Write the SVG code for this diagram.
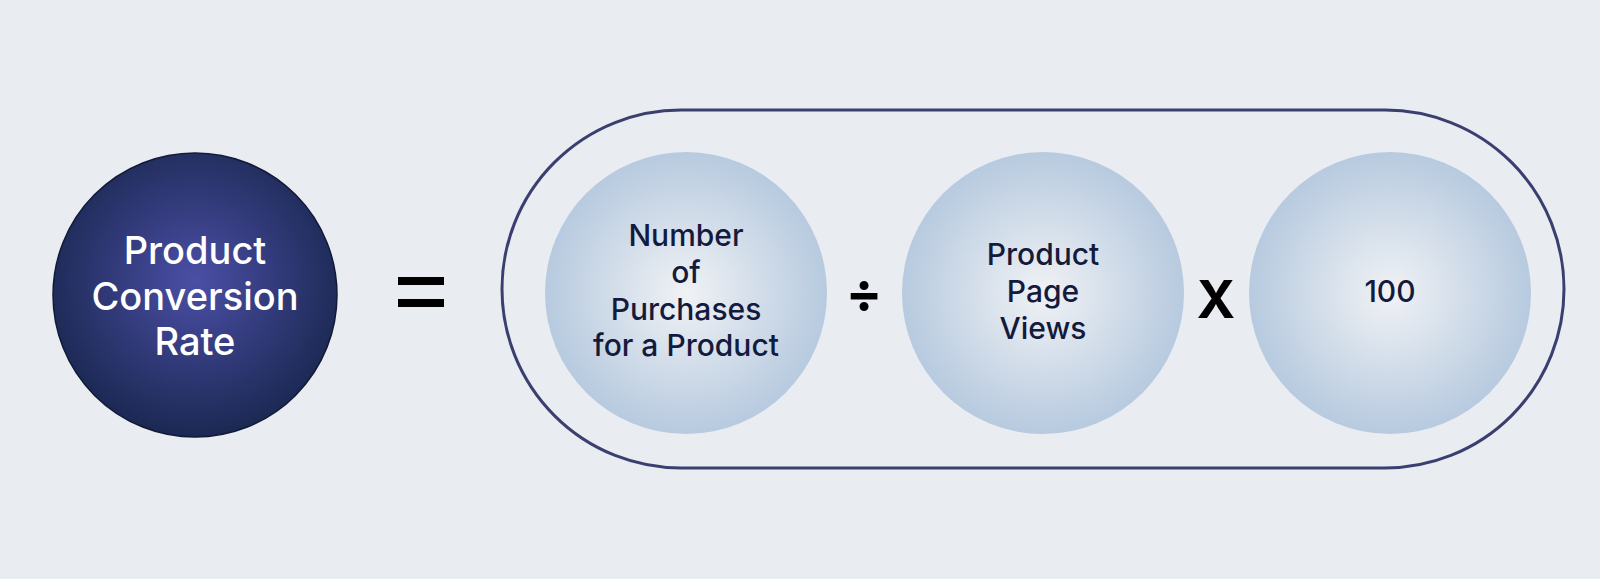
<svg xmlns="http://www.w3.org/2000/svg" width="1600" height="579" viewBox="0 0 1600 579">
<style>
.t{font-family:Inter,"Noto Sans",sans-serif;text-anchor:middle}
.w{fill:#ffffff;font-size:38px;font-weight:500}
.d{fill:#141a3c;font-size:30px;font-weight:500}
.op{fill:#000;font-family:Inter,"Noto Sans",sans-serif;text-anchor:middle;font-weight:700}
.ic{fill:url(#g2)}
</style>
<defs>
<radialGradient id="g1" cx="0.5" cy="0.45" r="0.55">
<stop offset="0" stop-color="#4b4fa6"/><stop offset="1" stop-color="#1b2852"/>
</radialGradient>
<radialGradient id="g2" cx="0.5" cy="0.5" r="0.5">
<stop offset="0" stop-color="#f0f2f5"/><stop offset="1" stop-color="#b7cadf"/>
</radialGradient>
</defs>
<rect width="1600" height="579" fill="#e9ecf0"/>
<g id="lhs">
<circle cx="195" cy="295" r="142" fill="url(#g1)" stroke="#111a38" stroke-width="1.5"/>
<text class="t w" x="195" y="264">Product</text>
<text class="t w" x="195" y="310">Conversion</text>
<text class="t w" x="195" y="355">Rate</text>
</g>
<g id="equals">
<rect x="398" y="277" width="46" height="8" fill="#000"/>
<rect x="398" y="299" width="46" height="8" fill="#000"/>
</g>
<g id="group">
<rect x="502" y="110" width="1062" height="358" rx="179" fill="none" stroke="#3b3f70" stroke-width="3"/>
</g>
<g id="numerator">
<circle class="ic" cx="686" cy="293" r="141"/>
<text class="t d" x="686" y="246">Number</text>
<text class="t d" x="686" y="283">of</text>
<text class="t d" x="686" y="320">Purchases</text>
<text class="t d" x="686" y="356">for a Product</text>
</g>
<g id="divide">
<text class="op" x="864" y="312" font-size="54">÷</text>
</g>
<g id="denominator">
<circle class="ic" cx="1043" cy="293" r="141"/>
<text class="t d" x="1043" y="265">Product</text>
<text class="t d" x="1043" y="302">Page</text>
<text class="t d" x="1043" y="339">Views</text>
</g>
<g id="times">
<text class="op" x="1216" y="318" font-size="52" font-weight="500">X</text>
</g>
<g id="hundred">
<circle class="ic" cx="1390" cy="293" r="141"/>
<text class="t d" x="1390" y="302">100</text>
</g>
<g id="connectors"></g>
</svg>
